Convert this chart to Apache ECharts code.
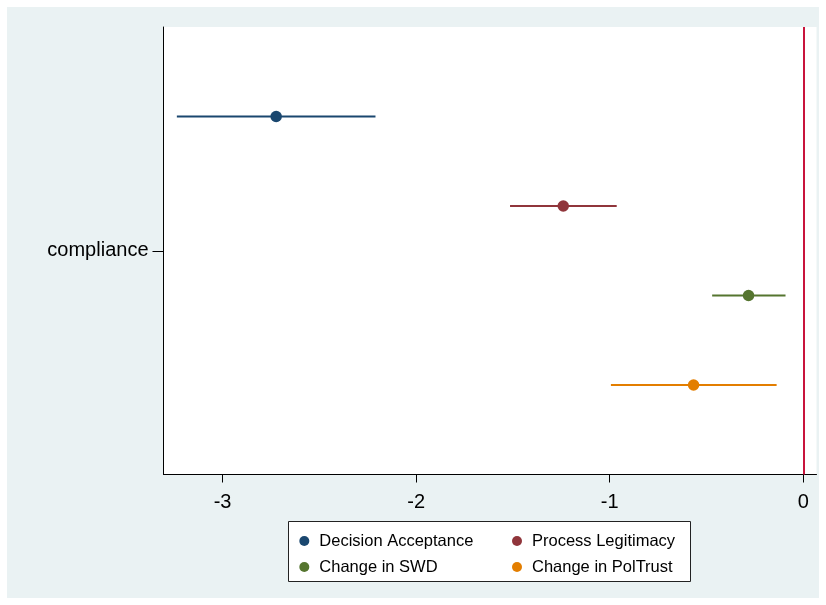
<!DOCTYPE html>
<html>
<head>
<meta charset="utf-8">
<script src="https://cdn.jsdelivr.net/npm/echarts@6/dist/echarts.min.js"></script>
<style>
html,body{margin:0;padding:0;background:#ffffff;}
#chart{width:826px;height:605px;}
</style>
</head>
<body>
<div id="chart"></div>
<script>
var seriesNames = ['Decision Acceptance', 'Process Legitimacy', 'Change in SWD', 'Change in PolTrust'];
var seriesColors = ['#1A476F', '#90353B', '#55752F', '#E37E00'];
var estimates = [-2.723, -1.240, -0.283, -0.567];
var ciLow = [-3.236, -1.515, -0.471, -0.994];
var ciHigh = [-2.210, -0.964, -0.092, -0.138];
var rowPositions = [1, 2, 3, 4];
var xTicks = [-3, -2, -1, 0];
var yTickPos = [2.5];
var yTickLabel = 'compliance';
var refLine = 0;

var FONT = 'Liberation Sans, Arial, Helvetica, sans-serif';
var chart = echarts.init(document.getElementById('chart'), null, {renderer: 'canvas'});

var series = [];
seriesNames.forEach(function (name, i) {
  series.push({
    name: name,
    type: 'line',
    data: [[ciLow[i], rowPositions[i]], [ciHigh[i], rowPositions[i]]],
    showSymbol: false,
    symbol: 'none',
    lineStyle: {color: seriesColors[i], width: 2},
    itemStyle: {color: seriesColors[i]},
    silent: true,
    z: 3
  });
  series.push({
    name: name,
    type: 'scatter',
    data: [[estimates[i], rowPositions[i]]],
    symbol: 'circle',
    symbolSize: 11.5,
    itemStyle: {color: seriesColors[i], opacity: 1},
    z: 4
  });
});
series.push({
  type: 'line',
  data: [],
  markLine: {
    silent: true,
    symbol: 'none',
    label: {show: false},
    lineStyle: {color: '#C8143C', width: 2, type: 'solid'},
    data: [{xAxis: refLine}]
  },
  z: 2
});

var option = {
  backgroundColor: '#ffffff',
  animation: false,
  graphic: [
    {type: 'rect', z: -10, shape: {x: 7, y: 7, width: 812, height: 591}, style: {fill: '#EAF2F3'}, silent: true},
    {type: 'rect', z: 10, shape: {x: 288.5, y: 521.5, width: 402, height: 60}, style: {fill: '#ffffff', stroke: '#222222', lineWidth: 1}, silent: true}
  ],
  grid: {
    left: 163.5, right: 9.5, top: 27, bottom: 130.5,
    show: true, backgroundColor: '#ffffff', borderWidth: 0,
    containLabel: false
  },
  legend: [
    {
      data: [{name: seriesNames[0], icon: 'circle'}, {name: seriesNames[2], icon: 'circle'}],
      orient: 'vertical', left: 294.3, top: 526, itemWidth: 20, itemHeight: 10, itemGap: 6,
      textStyle: {fontFamily: FONT, fontSize: 16.5, color: '#000', lineHeight: 20},
      z: 20, selectedMode: false
    },
    {
      data: [{name: seriesNames[1], icon: 'circle'}, {name: seriesNames[3], icon: 'circle'}],
      orient: 'vertical', left: 507, top: 526, itemWidth: 20, itemHeight: 10, itemGap: 6,
      textStyle: {fontFamily: FONT, fontSize: 16.5, color: '#000', lineHeight: 20},
      z: 20, selectedMode: false
    }
  ],
  xAxis: {
    type: 'value',
    min: -3.305, max: 0.068,
    splitLine: {show: false},
    axisLine: {show: true, onZero: false, lineStyle: {color: '#000', width: 1}},
    axisTick: {show: true, length: 8, customValues: xTicks, lineStyle: {color: '#000', width: 1}},
    axisLabel: {
      customValues: xTicks, margin: 18, color: '#000', fontFamily: FONT, fontSize: 20,
      formatter: function (v) { return String(v); }
    }
  },
  yAxis: {
    type: 'value',
    min: 0, max: 5, inverse: true,
    splitLine: {show: false},
    axisLine: {show: true, onZero: false, lineStyle: {color: '#000', width: 1}},
    axisTick: {show: true, length: 11, customValues: yTickPos, lineStyle: {color: '#000', width: 1}},
    axisLabel: {
      customValues: yTickPos, margin: 15, color: '#000', fontFamily: FONT, fontSize: 20,
      padding: [10, 0, 0, 0],
      formatter: function () { return yTickLabel; }
    }
  },
  series: series
};
chart.setOption(option);
</script>
</body>
</html>
